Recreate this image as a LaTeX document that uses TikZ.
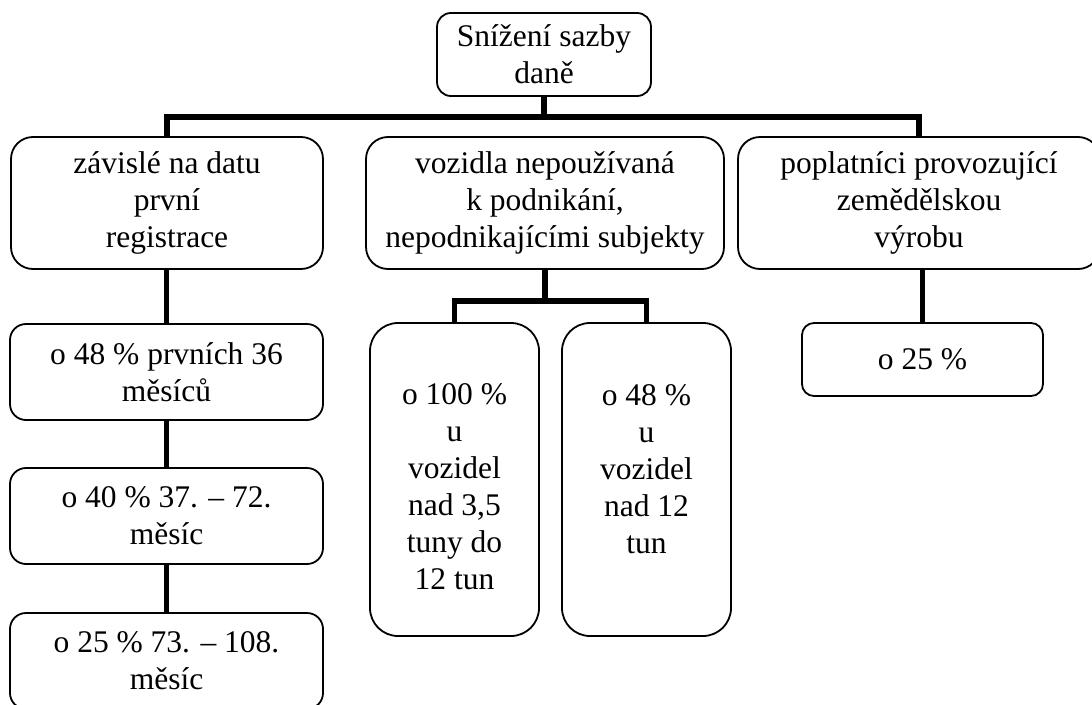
\documentclass[tikz,border=0pt]{standalone}
\usepackage{fontspec}
\setmainfont{Liberation Serif}
\begin{document}
\begin{tikzpicture}
[   x=1pt,y=-1pt,
    box/.style={draw,line width=1.8pt,rounded corners=#1,inner sep=0pt,align=center,font=\fontsize{31.5}{37}\selectfont},
    link/.style={line width=5.5pt}
]
    \useasboundingbox (0,0) rectangle (1092,704);
    \node[box=14pt,minimum width=214pt,minimum height=83pt] (S) at (544,54.5) {Snížení sazby\\daně};
    \node[box=22pt,minimum width=312pt,minimum height=132pt] (L) at (167,203) {závislé na datu\\první\\registrace};
    \node[box=22pt,minimum width=358pt,minimum height=132pt] (M) at (545,203) {vozidla nepoužívaná\\k podnikání,\\nepodnikajícími subjekty};
    \node[box=22pt,minimum width=362pt,minimum height=132pt] (R) at (919,203) {poplatníci provozující\\zemědělskou\\výrobu};
    \node[box=16pt,minimum width=313pt,minimum height=96pt] (L1) at (166.5,372) {o 48 \% prvních 36\\měsíců};
    \node[box=16pt,minimum width=313pt,minimum height=96pt] (L2) at (166.5,516) {o 40 \% 37. – 72.\\měsíc};
    \node[box=16pt,minimum width=313pt,minimum height=96pt] (L3) at (166.5,661) {o 25 \% 73. – 108.\\měsíc};
    \node[box=28pt,minimum width=169pt,minimum height=313pt] (M1) at (454.5,479.5) {\rule{0pt}{36pt}o 100 \%\\u\\vozidel\\nad 3,5\\tuny do\\12 tun};
    \node[box=28pt,minimum width=169pt,minimum height=313pt] (M2) at (646.5,479.5) {\rule{0pt}{36pt}o 48 \%\\u\\vozidel\\nad 12\\tun\\\mbox{}};
    \node[box=12pt,minimum width=241pt,minimum height=73pt] (R1) at (922.5,359.5) {o 25 \%};
    \draw[link] (S.south) -- ++(0,20) coordinate (top);
    \draw[link] (L.north) |- (R.north |- top) -- (R.north);
    \draw[link] (L1.north) -- (L1.north |- L.south);
    \draw[link] (L2.north) -- (L2.north |- L1.south);
    \draw[link] (L3.north) -- (L3.north |- L2.south);
    \draw[link] (M.south) -- ++(0,31) coordinate (mid);
    \draw[link] (M1.north) |- (mid) -| (M2.north);
    \draw[link] (R1.north) -- (R1.north |- R.south);
\end{tikzpicture}
\end{document}
